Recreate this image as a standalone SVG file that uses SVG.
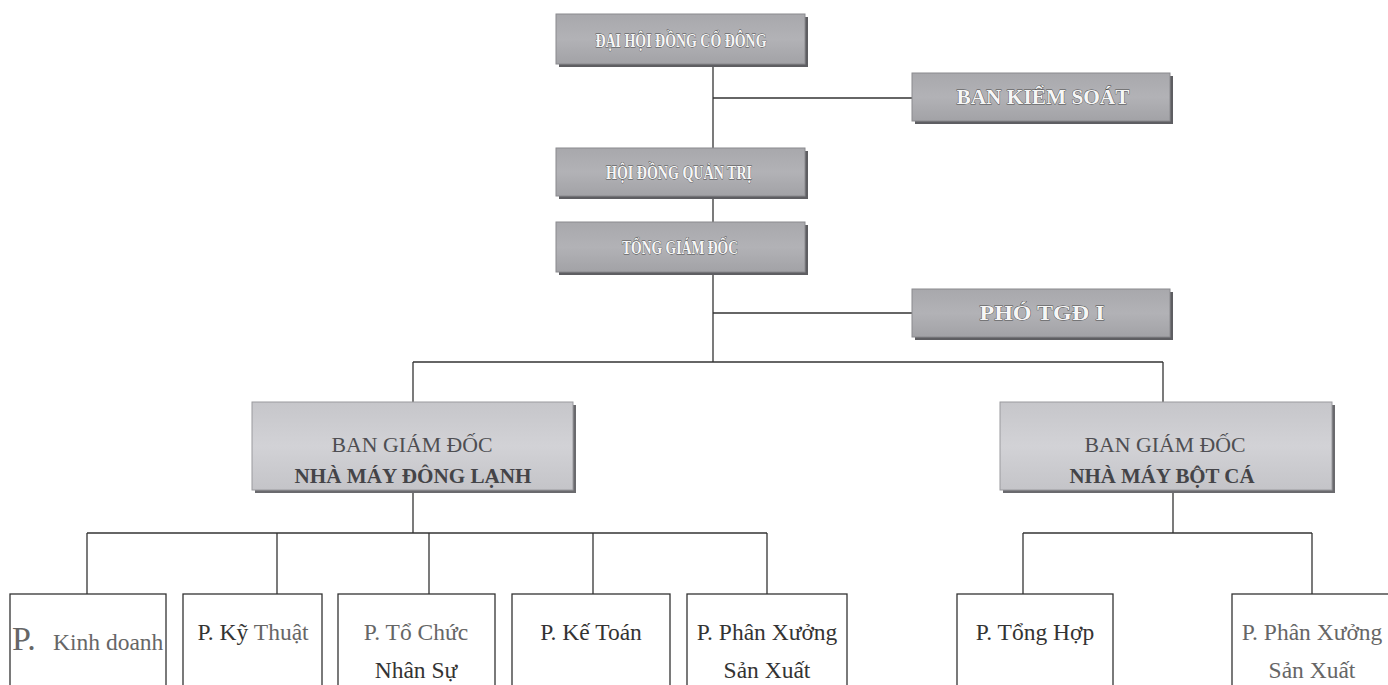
<svg xmlns="http://www.w3.org/2000/svg" width="1388" height="685" viewBox="0 0 1388 685">
<style>
.top rect.box{fill:url(#gTop);stroke:#8a8a8e;stroke-width:1}
.top rect.sh{fill:#5e5e62}
.top text{font-family:"Liberation Serif",serif;font-weight:bold;font-size:19px;fill:#f6f6f6;stroke:#4a4a4a;stroke-width:0.8;paint-order:stroke;text-anchor:middle}
.top text.big{font-size:21px}
.mid rect.box{fill:url(#gMid);stroke:#9a9a9e;stroke-width:1}
.mid rect.sh{fill:#6a6a6e}
.mid text{font-family:"Liberation Serif",serif;font-size:21px;fill:#4e4e52;text-anchor:middle}
.mid text.b{font-weight:bold;fill:#444448}
.dep rect{fill:#fff;stroke:#333;stroke-width:1.3}
.dep text{font-family:"Liberation Serif",serif;font-size:23.5px;fill:#333;text-anchor:middle}
.dep text.l{fill:#666}
.dep text.s{text-anchor:start}
#connectors line{stroke:#333;stroke-width:1.3}
</style>
<defs>
<linearGradient id="gTop" x1="0" y1="0" x2="0" y2="1">
<stop offset="0" stop-color="#a8a8ac"/><stop offset="0.5" stop-color="#b2b2b6"/><stop offset="1" stop-color="#a2a2a6"/>
</linearGradient>
<linearGradient id="gMid" x1="0" y1="0" x2="0" y2="1">
<stop offset="0" stop-color="#c6c6ca"/><stop offset="0.5" stop-color="#d2d2d6"/><stop offset="1" stop-color="#c4c4c8"/>
</linearGradient>
</defs>
<rect width="1388" height="685" fill="#fff"/>
<g id="connectors">
<line x1="713" y1="64" x2="713" y2="148"/>
<line x1="713" y1="98" x2="912" y2="98"/>
<line x1="713" y1="196" x2="713" y2="222"/>
<line x1="713" y1="272" x2="713" y2="362"/>
<line x1="713" y1="313" x2="912" y2="313"/>
<line x1="413" y1="362" x2="1163" y2="362"/>
<line x1="413" y1="362" x2="413" y2="402"/>
<line x1="1163" y1="362" x2="1163" y2="402"/>
<line x1="413" y1="490" x2="413" y2="533"/>
<line x1="87" y1="533" x2="767" y2="533"/>
<line x1="87" y1="533" x2="87" y2="594"/>
<line x1="277" y1="533" x2="277" y2="594"/>
<line x1="429" y1="533" x2="429" y2="594"/>
<line x1="593" y1="533" x2="593" y2="594"/>
<line x1="767" y1="533" x2="767" y2="594"/>
<line x1="1173" y1="490" x2="1173" y2="533"/>
<line x1="1023" y1="533" x2="1312" y2="533"/>
<line x1="1023" y1="533" x2="1023" y2="594"/>
<line x1="1312" y1="533" x2="1312" y2="594"/>
</g>
<g id="n-dhdcd" class="top"><rect class="sh" x="559" y="17" width="249" height="50"/><rect class="box" x="556" y="14" width="249" height="50"/><text x="681" y="47" textLength="171" lengthAdjust="spacingAndGlyphs">ĐẠI HỘI ĐỒNG CỔ ĐÔNG</text></g>
<g id="n-bks" class="top"><rect class="sh" x="915" y="76" width="258" height="48"/><rect class="box" x="912" y="73" width="258" height="48"/><text class="big" x="1043" y="104" textLength="173" lengthAdjust="spacingAndGlyphs">BAN KIỂM SOÁT</text></g>
<g id="n-hdqt" class="top"><rect class="sh" x="559" y="151" width="249" height="48"/><rect class="box" x="556" y="148" width="249" height="48"/><text x="679" y="179" textLength="146" lengthAdjust="spacingAndGlyphs">HỘI ĐỒNG QUẢN TRỊ</text></g>
<g id="n-tgd" class="top"><rect class="sh" x="559" y="225" width="249" height="50"/><rect class="box" x="556" y="222" width="249" height="50"/><text x="680" y="254" textLength="116" lengthAdjust="spacingAndGlyphs">TỔNG GIÁM ĐỐC</text></g>
<g id="n-ptgd" class="top"><rect class="sh" x="915" y="292" width="258" height="48"/><rect class="box" x="912" y="289" width="258" height="48"/><text class="big" x="1042" y="320" textLength="125" lengthAdjust="spacingAndGlyphs">PHÓ TGĐ I</text></g>
<g id="n-bgd1" class="mid"><rect class="sh" x="255" y="405" width="321" height="88"/><rect class="box" x="252" y="402" width="321" height="88"/><text x="412" y="452" textLength="161" lengthAdjust="spacingAndGlyphs">BAN GIÁM ĐỐC</text><text class="b" x="413" y="483" textLength="237" lengthAdjust="spacingAndGlyphs">NHÀ MÁY ĐÔNG LẠNH</text></g>
<g id="n-bgd2" class="mid"><rect class="sh" x="1003" y="405" width="332" height="88"/><rect class="box" x="1000" y="402" width="332" height="88"/><text x="1165" y="452" textLength="161" lengthAdjust="spacingAndGlyphs">BAN GIÁM ĐỐC</text><text class="b" x="1162" y="483" textLength="185" lengthAdjust="spacingAndGlyphs">NHÀ MÁY BỘT CÁ</text></g>
<g id="n-kd" class="dep"><rect x="10" y="594" width="156" height="110"/><text class="l s" x="12" y="650"><tspan font-size="34">P.</tspan><tspan x="53">Kinh doanh</tspan></text></g>
<g id="n-kt" class="dep"><rect x="183" y="594" width="139" height="110"/><text x="253" y="640">P. Kỹ <tspan fill="#666">Thuật</tspan></text></g>
<g id="n-tcns" class="dep"><rect x="338" y="594" width="157" height="110"/><text x="416" y="640" class="l">P. Tổ Chức</text><text x="416" y="678">Nhân Sự</text></g>
<g id="n-ktoan" class="dep"><rect x="512" y="594" width="158" height="110"/><text x="591" y="640">P. Kế Toán</text></g>
<g id="n-pxsx1" class="dep"><rect x="687" y="594" width="160" height="110"/><text x="767" y="640">P. Phân Xưởng</text><text x="767" y="678">Sản Xuất</text></g>
<g id="n-th" class="dep"><rect x="957" y="594" width="156" height="110"/><text x="1035" y="640">P. Tổng Hợp</text></g>
<g id="n-pxsx2" class="dep"><rect x="1232" y="594" width="170" height="110"/><text x="1312" y="640" class="l">P. Phân Xưởng</text><text x="1312" y="678" class="l">Sản Xuất</text></g>
</svg>
